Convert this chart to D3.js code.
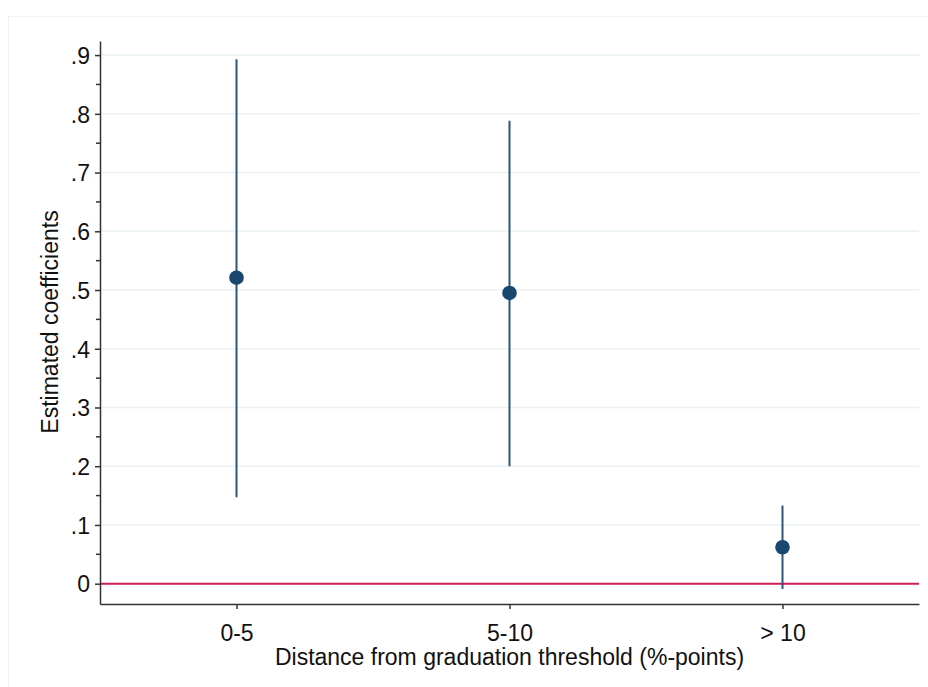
<!DOCTYPE html>
<html>
<head>
<meta charset="utf-8">
<script src="https://cdn.jsdelivr.net/npm/d3@7"></script>
<style>
  body { margin: 0; background: #fff; }
  text { font-family: "Liberation Sans", Arial, sans-serif; fill: #111; }
</style>
</head>
<body>
<script>
// Data
const categories = ["0-5", "5-10", "> 10"];
const estimates  = [0.521, 0.495, 0.062];
const ciLow      = [0.147, 0.200, -0.009];
const ciHigh     = [0.893, 0.788, 0.133];
const yTicks     = [0, 0.1, 0.2, 0.3, 0.4, 0.5, 0.6, 0.7, 0.8, 0.9];
const yMinor     = [0.05, 0.15, 0.25, 0.35, 0.45, 0.55, 0.65, 0.75, 0.85];

const width = 928;
const height = 687;
const plot = {left: 100, right: 919, top: 41, bottom: 604};
const fontSize = '23px';

const svg = d3.select('body').append('svg')
  .attr('width', width)
  .attr('height', height);

// faint outer frame
svg.append('rect')
  .attr('x', 8.5).attr('y', 16.5)
  .attr('width', 930).attr('height', 700)
  .attr('fill', 'none')
  .attr('stroke', '#f2f2f2')
  .attr('stroke-width', 1);

// Scales
const yScale = d3.scaleLinear()
  .domain([-0.0346, 0.924])
  .range([plot.bottom, plot.top]);

const xScale = d3.scalePoint()
  .domain(categories)
  .range([plot.left, plot.right])
  .padding(0.5);

const fmt = (d) => d === 0 ? "0" : d3.format(".1f")(d).replace(/^0\./, ".");

// gridlines
svg.append('g').classed('grid', true)
  .selectAll('line')
  .data(yTicks.filter((d) => d !== 0))
  .join('line')
  .attr('x1', plot.left).attr('x2', plot.right)
  .attr('y1', (d) => yScale(d)).attr('y2', (d) => yScale(d))
  .attr('stroke', '#eaf2f3')
  .attr('stroke-width', 1.5);

// zero reference line
svg.append('line')
  .attr('x1', plot.left).attr('x2', plot.right)
  .attr('y1', yScale(0)).attr('y2', yScale(0))
  .attr('stroke', '#cc1f4f')
  .attr('stroke-width', 2);

// y axis
const yAxis = d3.axisLeft(yScale)
  .tickValues(yTicks)
  .tickFormat(fmt)
  .tickSize(5)
  .tickPadding(5)
  .tickSizeOuter(0);

const gy = svg.append('g')
  .classed('axis y', true)
  .attr('transform', 'translate(' + plot.left + ',0)')
  .call(yAxis);
gy.selectAll('text').style('font-size', fontSize).attr('dy', '0.36em');

gy.selectAll('.minor')
  .data(yMinor)
  .join('line')
  .classed('minor', true)
  .attr('x1', -4).attr('x2', 0)
  .attr('y1', (d) => yScale(d)).attr('y2', (d) => yScale(d))
  .attr('stroke', '#333')
  .attr('stroke-width', 1.3);

// x axis
const xAxis = d3.axisBottom(xScale)
  .tickSize(5)
  .tickPadding(16)
  .tickSizeOuter(0);

const gx = svg.append('g')
  .classed('axis x', true)
  .attr('transform', 'translate(0,' + plot.bottom + ')')
  .call(xAxis);
gx.selectAll('text').style('font-size', fontSize);

svg.selectAll('.axis path, .axis line')
  .attr('stroke', '#333')
  .attr('stroke-width', 1.5);

// confidence intervals
svg.append('g').classed('ci', true)
  .selectAll('line')
  .data(categories)
  .join('line')
  .attr('x1', (d) => xScale(d)).attr('x2', (d) => xScale(d))
  .attr('y1', (d, i) => yScale(ciLow[i]))
  .attr('y2', (d, i) => yScale(ciHigh[i]))
  .attr('stroke', '#2f5578')
  .attr('stroke-width', 2);

// point estimates
svg.append('g').classed('points', true)
  .selectAll('circle')
  .data(categories)
  .join('circle')
  .attr('cx', (d) => xScale(d))
  .attr('cy', (d, i) => yScale(estimates[i]))
  .attr('r', 7.3)
  .attr('fill', '#1a476f');

// axis titles
svg.append('text')
  .attr('x', (plot.left + plot.right) / 2)
  .attr('y', 665)
  .attr('text-anchor', 'middle')
  .style('font-size', fontSize)
  .text('Distance from graduation threshold (%-points)');

svg.append('text')
  .attr('transform', 'translate(58,322) rotate(-90)')
  .attr('text-anchor', 'middle')
  .style('font-size', fontSize)
  .text('Estimated coefficients');
</script>
</body>
</html>
